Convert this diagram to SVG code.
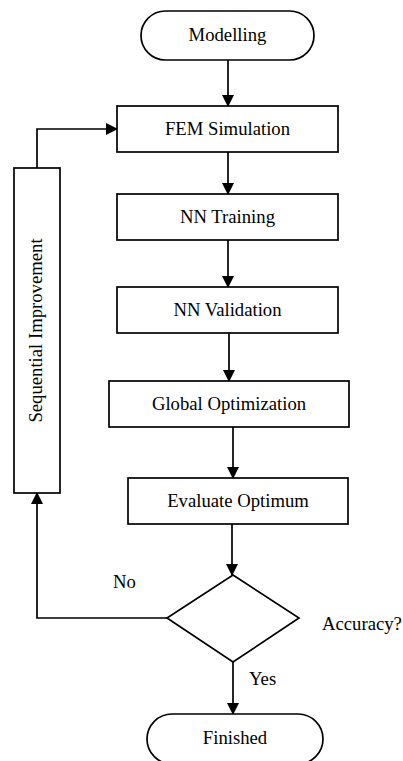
<svg xmlns="http://www.w3.org/2000/svg" width="403" height="761" viewBox="0 0 403 761">
<style>
.s{fill:#fff;stroke:#000;stroke-width:1.7}
.t{font-family:"Liberation Serif","Times New Roman",serif;font-size:18.7px;fill:#000;text-anchor:middle}
.l{font-family:"Liberation Serif","Times New Roman",serif;font-size:18.7px;fill:#000}
.c{fill:none;stroke:#000;stroke-width:1.7}
</style>
<defs>
<marker id="a" markerWidth="12" markerHeight="12" refX="11" refY="6" orient="auto" markerUnits="userSpaceOnUse">
<path d="M0,0 L12,6 L0,12 Z" fill="#000"/>
</marker>
</defs>
<rect width="403" height="761" fill="#fff"/>
<g id="connectors">
<line class="c" x1="228" y1="60" x2="228" y2="106" marker-end="url(#a)"/>
<line class="c" x1="228" y1="152" x2="228" y2="194" marker-end="url(#a)"/>
<line class="c" x1="228" y1="240" x2="228" y2="287" marker-end="url(#a)"/>
<line class="c" x1="229" y1="333" x2="229" y2="381" marker-end="url(#a)"/>
<line class="c" x1="233" y1="427" x2="233" y2="478" marker-end="url(#a)"/>
<line class="c" x1="232" y1="524" x2="232" y2="575" marker-end="url(#a)"/>
<line class="c" x1="233" y1="662" x2="233" y2="714" marker-end="url(#a)"/>
<polyline class="c" points="167,618 37,618 37,493" marker-end="url(#a)"/>
<polyline class="c" points="37,168 37,129 117,129" marker-end="url(#a)"/>
<text class="l" x="249" y="685">Yes</text>
<text class="l" x="113" y="588">No</text>
</g>
<g id="modelling">
<rect class="s" x="141" y="11" width="173" height="49" rx="24.5"/>
<text class="t" x="227.5" y="41">Modelling</text>
</g>
<g id="fem">
<rect class="s" x="117" y="106" width="221" height="46"/>
<text class="t" x="227.5" y="135">FEM Simulation</text>
</g>
<g id="nntraining">
<rect class="s" x="117" y="194" width="221" height="46"/>
<text class="t" x="227.5" y="223">NN Training</text>
</g>
<g id="nnvalidation">
<rect class="s" x="117" y="287" width="221" height="46"/>
<text class="t" x="227.5" y="316">NN Validation</text>
</g>
<g id="global">
<rect class="s" x="109" y="381" width="240" height="46"/>
<text class="t" x="229" y="410">Global Optimization</text>
</g>
<g id="evaluate">
<rect class="s" x="128" y="478" width="220" height="46"/>
<text class="t" x="238" y="507">Evaluate Optimum</text>
</g>
<g id="accuracy">
<polygon class="s" points="233,575 299,618 233,662 167,618"/>
<text class="l" x="322" y="630">Accuracy?</text>
</g>
<g id="finished">
<rect class="s" x="147" y="714" width="176" height="50" rx="25"/>
<text class="t" x="235" y="744">Finished</text>
</g>
<g id="sequential">
<rect class="s" x="14" y="168" width="46" height="325"/>
<text class="t" transform="translate(42,330.5) rotate(-90)">Sequential Improvement</text>
</g>
</svg>
